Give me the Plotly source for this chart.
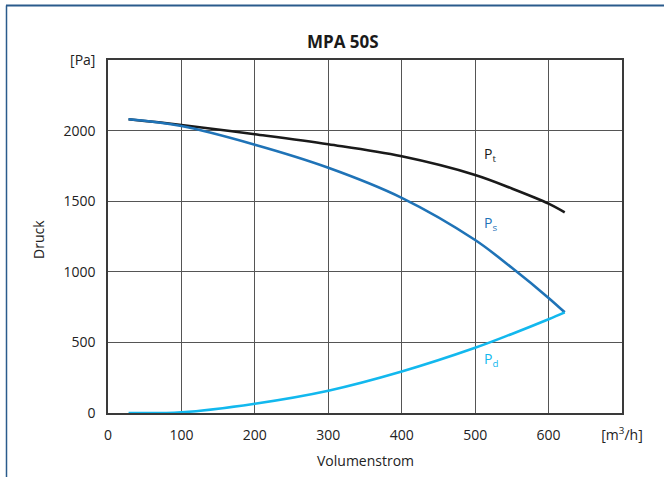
import plotly.graph_objects as go

Q = [28, 100, 200, 300, 400, 500, 550, 600, 622]
Pt = [2080, 2040, 1974, 1903, 1818, 1686, 1590, 1483, 1421]
Ps = [2080, 2032, 1900, 1737, 1524, 1225, 1028, 815, 713]
Pd = [0, 5, 66, 158, 294, 462, 560, 664, 713]

x_ticks = [0, 100, 200, 300, 400, 500, 600, 700]
x_ticktext = ["0", "100", "200", "300", "400", "500", "600", "[m<sup>3</sup>/h]"]
y_ticks = [0, 500, 1000, 1500, 2000, 2500]
y_ticktext = ["0", "500", "1000", "1500", "2000", "[Pa]"]

FONT = "Open Sans"
TXT = "#222222"
fig = go.Figure()
fig.add_trace(go.Scatter(x=Q, y=Pt, mode="lines", line=dict(color="#1a1a1a", width=2.6, shape="spline", smoothing=1), hoverinfo="skip"))
fig.add_trace(go.Scatter(x=Q, y=Ps, mode="lines", line=dict(color="#1F73B7", width=2.6, shape="spline", smoothing=1), hoverinfo="skip"))
fig.add_trace(go.Scatter(x=Q, y=Pd, mode="lines", line=dict(color="#12B8EE", width=2.6, shape="spline", smoothing=1), hoverinfo="skip"))

labels = [("P<sub>t</sub>", 509, 1830, "#1a1a1a"), ("P<sub>s</sub>", 509, 1345, "#1F73B7"), ("P<sub>d</sub>", 509, 378, "#12B8EE")]
for t, lx, ly, c in labels:
    fig.add_annotation(x=lx, y=ly, text=t, showarrow=False, xanchor="left", yanchor="middle",
                       font=dict(family=FONT, size=14, color=c))

L, R, T, B = 108, 42, 60, 64
W, H = 664, 477
pw, ph = W - L - R, H - T - B
def px(p):
    return (p - L) / pw
def py(p):
    return (H - B - p) / ph

fig.add_shape(type="line", xref="paper", yref="paper", x0=px(6), x1=px(664), y0=py(5.5), y1=py(5.5), line=dict(color="#2A5B8C", width=2))
fig.add_shape(type="line", xref="paper", yref="paper", x0=px(6.5), x1=px(6.5), y0=py(5.5), y1=py(477), line=dict(color="#2A5B8C", width=1.5))

fig.add_annotation(xref="paper", yref="paper", x=px(343), y=py(41.5), text="<b>MPA 50S</b>", showarrow=False,
                   xanchor="center", yanchor="middle", font=dict(family=FONT, size=17, color="#1a1a1a"))
fig.add_annotation(xref="paper", yref="paper", x=px(365), y=py(460), text="Volumenstrom", showarrow=False,
                   xanchor="center", yanchor="middle", font=dict(family=FONT, size=14, color=TXT))
fig.add_annotation(xref="paper", yref="paper", x=px(38), y=py(240), text="Druck", showarrow=False, textangle=-90,
                   xanchor="center", yanchor="middle", font=dict(family=FONT, size=14, color=TXT))

fig.update_layout(
    width=W, height=H, margin=dict(l=L, r=R, t=T, b=B),
    paper_bgcolor="white", plot_bgcolor="white", showlegend=False,
    font=dict(family=FONT, size=14, color=TXT),
)
fig.update_xaxes(range=[0, 700], tickvals=x_ticks, ticktext=x_ticktext, showgrid=True, gridcolor="#555", gridwidth=1,
                 showline=True, linecolor="#3a3a3a", linewidth=1.5, mirror=True, ticks="", zeroline=False,
                 ticklabelstandoff=8, tickfont=dict(family=FONT, size=14, color=TXT))
fig.update_yaxes(range=[0, 2500], tickvals=y_ticks, ticktext=y_ticktext, showgrid=True, gridcolor="#555", gridwidth=1,
                 showline=True, linecolor="#3a3a3a", linewidth=1.5, mirror=True, ticks="", zeroline=False,
                 ticklabelstandoff=8, tickfont=dict(family=FONT, size=14, color=TXT))

fig.write_html("out.html")
